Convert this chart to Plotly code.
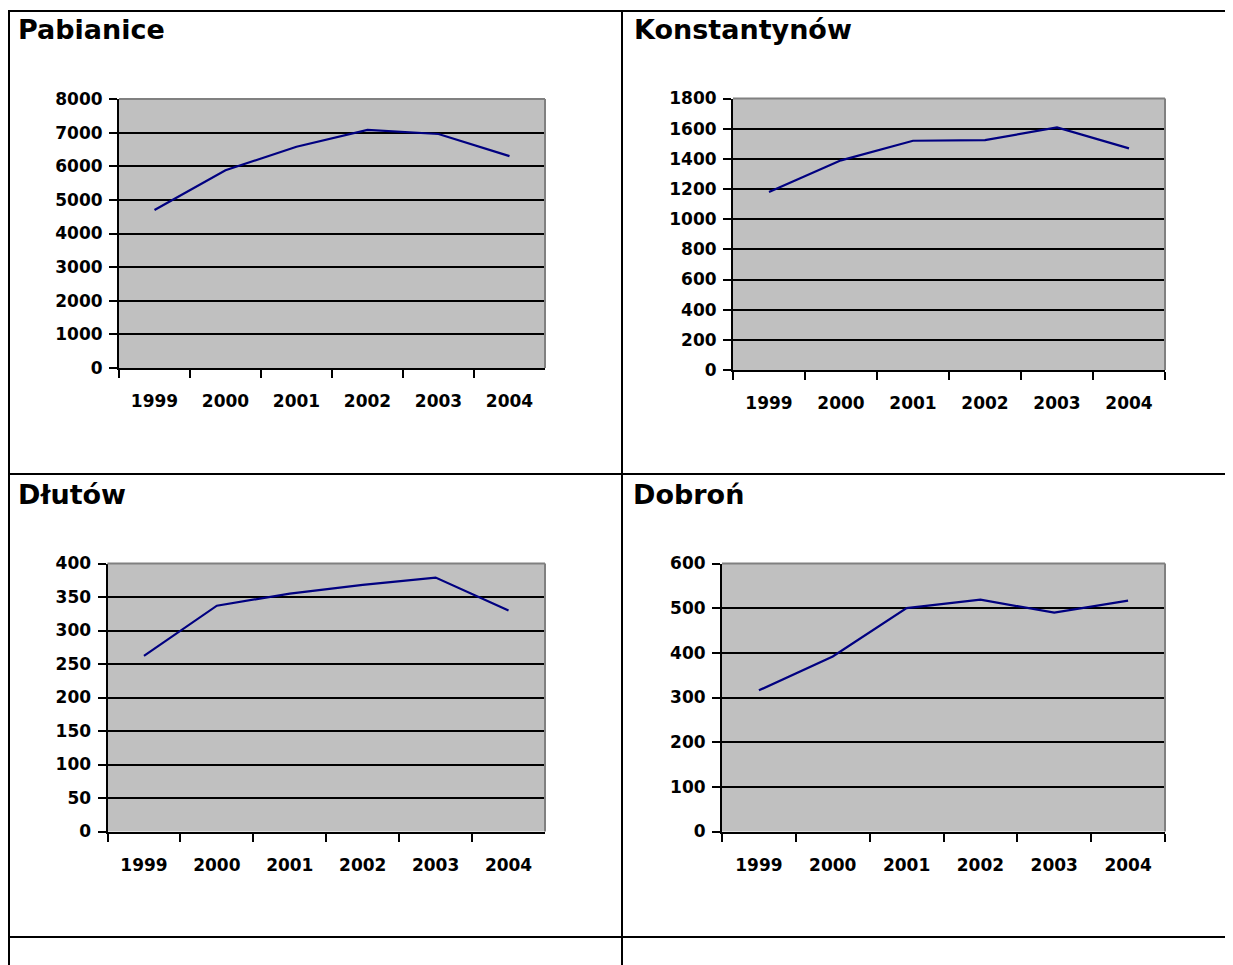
import plotly.graph_objects as go

# ---- data ----
years = ["1999", "2000", "2001", "2002", "2003", "2004"]
titles = ["Pabianice", "Konstantynów", "Dłutów", "Dobroń"]
pabianice = [4700, 5880, 6580, 7080, 6960, 6300]
konstantynow = [1180, 1390, 1520, 1524, 1608, 1469]
dlutow = [262, 337, 355, 368, 379, 330]
dobron = [316, 392, 500, 519, 490, 517]
y_max = [8000, 1800, 400, 600]
y_step = [1000, 200, 50, 100]

series = [pabianice, konstantynow, dlutow, dobron]

# ---- layout (pixels in the final screenshot) ----
VW, VH = 1233, 965     # window size
OFF = 8                # page body margin offset
W, H = VW - OFF, VH - OFF


def px(x):
    return (x - OFF) / W


def py(y):
    return 1 - (y - OFF) / H


boxes = [  # x0, x1, ytop, ybottom
    (119, 545, 99, 368),
    (733, 1165, 98.5, 370),
    (107.5, 545, 563.5, 831.5),
    (722, 1165, 563.5, 831.5),
]
title_pos = [(16, 30), (632, 30), (16, 494), (631, 494)]

FONT = "DejaVu Sans"
fig = go.Figure()
shapes = []
annotations = []

for i, (vals, box) in enumerate(zip(series, boxes)):
    n = i + 1
    xa = "x" if n == 1 else f"x{n}"
    ya = "y" if n == 1 else f"y{n}"
    fig.add_trace(go.Scatter(x=years, y=vals, mode="lines", xaxis=xa, yaxis=ya,
                             line=dict(color="#000080", width=2.2), showlegend=False,
                             hoverinfo="x+y"))
    x0, x1, yt, yb = box
    xkey = "xaxis" if n == 1 else f"xaxis{n}"
    ykey = "yaxis" if n == 1 else f"yaxis{n}"
    fig.update_layout(**{
        xkey: dict(domain=[px(x0), px(x1)], anchor=ya, type="category",
                   categoryorder="array", categoryarray=years,
                   range=[-0.5, len(years) - 0.5], autorange=False,
                   tickson="boundaries", ticks="outside", ticklen=8, tickwidth=2,
                   tickcolor="black", showline=True, linecolor="black", linewidth=2,
                   showgrid=False, ticklabelstandoff=17, automargin=False,
                   tickfont=dict(family=FONT, size=17, color="black", weight="bold"),
                   fixedrange=True),
        ykey: dict(domain=[py(yb), py(yt)], anchor=xa, range=[0, y_max[i]],
                   autorange=False,
                   dtick=y_step[i], tick0=0, ticks="outside", ticklen=8, tickwidth=2,
                   tickcolor="black", showline=True, linecolor="black", linewidth=2,
                   showgrid=True, gridcolor="black", gridwidth=2, zeroline=False,
                   ticklabelstandoff=3, automargin=False,
                   tickfont=dict(family=FONT, size=17, color="black", weight="bold"),
                   fixedrange=True),
    })
    # gray top and right plot-area border
    shapes.append(dict(type="line", xref=f"{xa} domain", yref=f"{ya} domain",
                       x0=0, x1=1, y0=1, y1=1, line=dict(color="#808080", width=2),
                       layer="above"))
    shapes.append(dict(type="line", xref=f"{xa} domain", yref=f"{ya} domain",
                       x0=1, x1=1, y0=0, y1=1, line=dict(color="#808080", width=2),
                       layer="above"))
    tx, ty = title_pos[i]
    annotations.append(dict(text=titles[i], xref="paper", yref="paper",
                            x=px(tx), y=py(ty), xanchor="left", yanchor="middle",
                            showarrow=False,
                            font=dict(family=FONT, size=27, color="black", weight="bold")))


# table borders
def hline(yy, xx0, xx1):
    return dict(type="line", xref="paper", yref="paper", x0=px(xx0), x1=px(xx1),
                y0=py(yy), y1=py(yy), line=dict(color="black", width=2))


def vline(xx, yy0, yy1):
    return dict(type="line", xref="paper", yref="paper", x0=px(xx), x1=px(xx),
                y0=py(yy0), y1=py(yy1), line=dict(color="black", width=2))


shapes += [hline(11, 8, VW), hline(474, 8, VW), hline(937, 8, VW),
           vline(9, 10, VH), vline(622, 10, VH)]

fig.update_layout(width=W, height=H,
                  margin=dict(l=0, r=0, t=0, b=0, pad=0, autoexpand=False),
                  paper_bgcolor="white", plot_bgcolor="#C0C0C0",
                  shapes=shapes, annotations=annotations, showlegend=False,
                  font=dict(family=FONT, color="black"))

fig.write_html("out.html")
